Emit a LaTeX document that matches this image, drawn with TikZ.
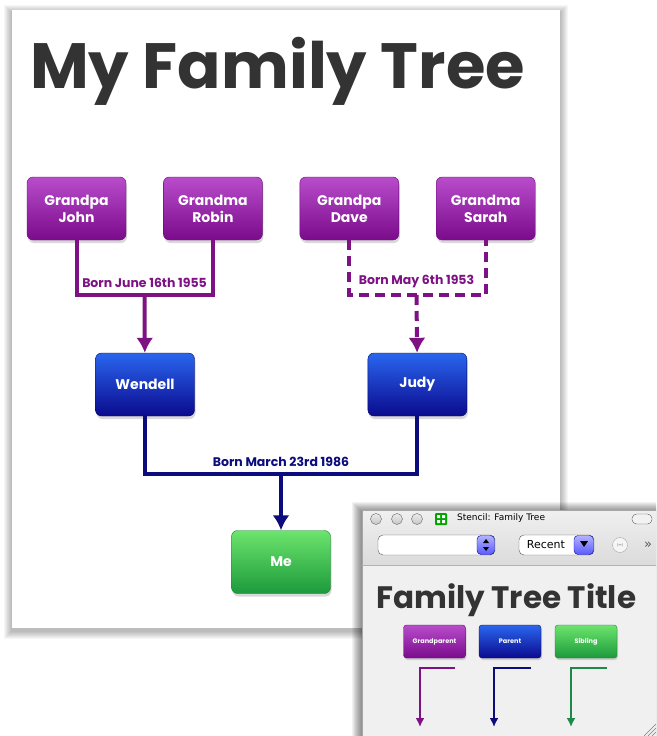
\documentclass[tikz,border=0pt]{standalone}
\usepackage{fontspec}
\setmainfont{Poppins}
\newfontfamily\uifont{DejaVu Sans}
\usetikzlibrary{positioning,arrows.meta,shadows}

\definecolor{gpTop}{HTML}{B84CCB}
\definecolor{gpBot}{HTML}{7A0C8C}
\definecolor{gpEdge}{HTML}{6A0878}
\definecolor{gpLine}{HTML}{7E1284}
\definecolor{pTop}{HTML}{2A66EE}
\definecolor{pBot}{HTML}{0A0A8E}
\definecolor{pEdge}{HTML}{08086E}
\definecolor{pLine}{HTML}{0C0C7C}
\definecolor{sTop}{HTML}{6CE46C}
\definecolor{sBot}{HTML}{1C9A3C}
\definecolor{sEdge}{HTML}{16803A}
\definecolor{sLine}{HTML}{1E8A4A}
\definecolor{titleGrey}{HTML}{333333}
\definecolor{winBg}{HTML}{F0F0F0}

\tikzset{
  person/.style={draw=#1Edge,rounded corners=6pt,minimum width=99pt,minimum height=63pt,
    align=center,text=white,font=\bfseries\fontsize{14}{17}\selectfont,
    top color=#1Top,bottom color=#1Bot,
    drop shadow={opacity=0.3,shadow xshift=1pt,shadow yshift=-3pt}},
  stencilbox/.style={draw=#1Edge,rounded corners=3pt,minimum width=62pt,minimum height=33pt,
    text=white,font=\bfseries\fontsize{6.5}{7}\selectfont,
    top color=#1Top,bottom color=#1Bot,
    drop shadow={opacity=0.3,shadow xshift=1pt,shadow yshift=-2pt}},
  datelabel/.style={font=\bfseries\fontsize{12.5}{12.5}\selectfont,text=#1Line,inner sep=1pt},
  link/.style={draw=#1Line,line width=4pt},
}

\begin{document}
\begin{tikzpicture}[x=1pt,y=-1pt,>={Latex[length=15pt,width=17pt]},node distance=37pt]
    \useasboundingbox (0,0) rectangle (656,736);
    \clip (0,0) rectangle (656,736);
    \fill[white] (0,0) rectangle (656,736);

    % page with soft shadow
    \foreach \s in {1,...,8}
        \fill[black,opacity=0.035] (12-\s,10-\s+3) rectangle (560+\s,628+\s+3);
    \fill[white] (12,10) rectangle (560,628);

    \node[font=\bfseries\fontsize{64}{64}\selectfont,text=titleGrey,anchor=base west,inner sep=0pt] (title) at (30,88) {My Family Tree};

    % grandparents
    \node[person=gp] (john) at (76.5,208.5) {Grandpa\\John};
    \node[person=gp,right=of john] (robin) {Grandma\\Robin};
    \node[person=gp,right=of robin] (dave) {Grandpa\\Dave};
    \node[person=gp,right=of dave] (sarah) {Grandma\\Sarah};

    % parents
    \node[person=p] (wendell) at (145,384.5) {Wendell};
    \node[person=p,right=173pt of wendell] (judy) {Judy};

    % me
    \node[person=s] (me) at (281,562) {Me};

    \coordinate (jrmid) at (144.5,295);
    \coordinate (dsmid) at (416.5,295);
    \coordinate (wjmid) at (281,474);

    \draw[link=gp] (john) |- (jrmid) node[above=4pt,datelabel=gp] {Born June 16th 1955} -| (robin);
    \draw[link=gp,->] (jrmid) -- (wendell);
    \draw[link=gp,dash pattern=on 10pt off 6pt] (dave) |- (dsmid) node[above=4pt,datelabel=gp] {Born May 6th 1953} -| (sarah);
    \draw[link=gp,dash pattern=on 10pt off 6pt,->] (dsmid) -- (judy);
    \draw[link=p] (wendell) |- (wjmid) node[above=4pt,datelabel=p] {Born March 23rd 1986} -| (judy);
    \draw[link=p,->] (wjmid) -- (me);

    % stencil window
    \foreach \s in {1,...,10}
        \fill[black,opacity=0.05] (362-\s,510-\s+2) rectangle (670,750);
    \fill[winBg] (362,510) rectangle (670,750);
    \shade[top color=gray!12,bottom color=gray!28] (362,510) rectangle (670,565);
    \draw[gray!70] (362,510) rectangle (670,750);
    \draw[gray!60] (362,565) -- (670,565);
    \foreach \x in {376,397,417}
        \draw[gray!80!black,top color=gray!15,bottom color=gray!45] (\x,519) circle[radius=5.5pt];
    \fill[green!65!black,rounded corners=1pt] (435,513) rectangle (447,525);
    \fill[white] (437,515) rectangle (440,518) (442,515) rectangle (445,518)
                 (437,520) rectangle (440,523) (442,520) rectangle (445,523);
    \node[font=\uifont\fontsize{9}{9}\selectfont,anchor=west,inner sep=0pt] (wintitle) at (457,518) {Stencil: Family Tree};
    \draw[gray!70!black,fill=gray!10,rounded corners=4.5pt] (632,514) rectangle (652,524);

    \draw[gray!70!black,fill=white,rounded corners=5pt] (378,535) rectangle (495,555);
    \draw[blue!60!black,top color=blue!30,bottom color=blue!65,rounded corners=4pt] (477,535.5) rectangle (494.5,554.5);
    \fill[black] (483,543) -- (486,539) -- (489,543) -- cycle (483,547) -- (486,551) -- (489,547) -- cycle;

    \draw[gray!70!black,fill=white,rounded corners=5pt] (519,535) rectangle (594,555);
    \draw[blue!60!black,top color=blue!30,bottom color=blue!65,rounded corners=4pt] (574,535.5) rectangle (593.5,554.5);
    \fill[black] (580,541) -- (588,541) -- (584,547) -- cycle;
    \node[font=\uifont\fontsize{11}{11}\selectfont,inner sep=0pt] (recent) at (546,545) {Recent};
    \draw[gray!70,fill=gray!8] (620,545) circle[radius=7.5pt];
    \node[font=\uifont\fontsize{4}{4}\selectfont,text=gray,inner sep=0pt] (navicon) at (620,545) {(↔)};
    \node[font=\uifont\fontsize{13}{13}\selectfont,text=gray!70!black,inner sep=0pt] (more) at (648,545) {»};

    \node[font=\bfseries\fontsize{31}{31}\selectfont,text=titleGrey,anchor=base west,inner sep=0pt] (stitle) at (376,608) {Family Tree Title};

    \node[stencilbox=gp] (sgp) at (434.5,641.5) {Grandparent};
    \node[stencilbox=p] (spar) at (510,641.5) {Parent};
    \node[stencilbox=s] (ssib) at (586,641.5) {Sibling};

    \draw[gpLine,line width=2pt,-{Latex[length=9pt,width=9pt]}] (455,668) -- (420,668) -- (420,727);
    \draw[pLine,line width=2pt,-{Latex[length=9pt,width=9pt]}] (531,668) -- (494,668) -- (494,727);
    \draw[sLine,line width=2pt,-{Latex[length=9pt,width=9pt]}] (607,668) -- (571,668) -- (571,727);

    \foreach \d in {4,8,12}
        \draw[gray] (656-\d,736) -- (656,736-\d);
\end{tikzpicture}
\end{document}
